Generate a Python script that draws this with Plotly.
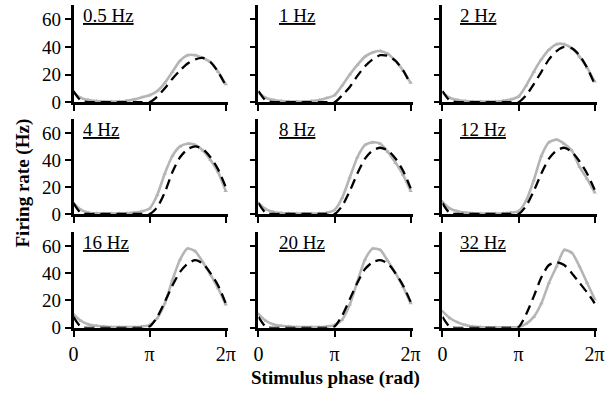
import math
import plotly.graph_objects as go

# Stimulus phase sampled in steps of pi/10 over one cycle
phase = [k * math.pi / 10 for k in range(21)]

labels = ["0.5 Hz", "1 Hz", "2 Hz", "4 Hz", "8 Hz", "12 Hz", "16 Hz", "20 Hz", "32 Hz"]

# Measured firing rate (Hz), one list per stimulus frequency
data_05 = [7, 3, 1.5, 0.8, 0.5, 0.5, 0.5, 1, 2, 3.5, 5, 8, 14, 22, 30, 34, 34, 32, 29, 22, 13]
data_1 = [7, 3, 1.5, 0.8, 0.5, 0.5, 0.5, 0.8, 1.5, 3, 5, 12, 20, 27, 33, 36, 37, 35, 30, 23, 14]
data_2 = [7, 3, 1.5, 0.8, 0.5, 0.5, 0.5, 0.5, 1, 2, 4, 12, 22, 31, 38, 42, 42, 39, 33, 25, 15]
data_4 = [8, 3, 1, 0.5, 0.3, 0.3, 0.3, 0.5, 1, 2, 4, 14, 30, 43, 50, 52, 51, 47, 40, 31, 17]
data_8 = [8, 3.5, 1.5, 0.8, 0.5, 0.3, 0.3, 0.3, 0.5, 1, 3, 12, 27, 42, 51, 53, 52, 46, 38, 29, 17]
data_12 = [9, 4, 2, 1, 0.5, 0.3, 0.3, 0.3, 0.5, 1, 2, 10, 25, 43, 53, 55, 52, 47, 35, 26, 16]
data_16 = [10, 5, 2.5, 1.5, 1, 0.5, 0.5, 0.5, 0.5, 1, 2, 7, 18, 35, 50, 58, 56, 48, 39, 29, 17]
data_20 = [10, 5, 2.5, 1.5, 1, 0.5, 0.5, 0.5, 0.5, 1, 2, 6, 17, 34, 50, 58, 57, 49, 40, 30, 18]
data_32 = [12, 7, 4, 2, 1, 0.5, 0.3, 0.3, 0.3, 0.3, 0.5, 3, 8, 18, 33, 45, 57, 55, 45, 33, 21]

# Model prediction (Hz), one list per stimulus frequency
model_05 = [8, 1, 0, 0, 0, 0, 0, 0, 0, 0, 0, 4, 10, 17, 23, 28, 31, 32, 29, 22, 12]
model_1 = [8, 1, 0, 0, 0, 0, 0, 0, 0, 0, 0, 5, 11, 19, 26, 31, 34, 33.5, 30, 23, 13]
model_2 = [8, 1, 0, 0, 0, 0, 0, 0, 0, 0, 0, 5, 13, 22, 31, 37, 40, 39, 34, 25, 13]
model_4 = [8, 0.5, 0, 0, 0, 0, 0, 0, 0, 0, 0, 5, 16, 31, 42, 48, 50, 48, 42, 33, 20]
model_8 = [8, 0.5, 0, 0, 0, 0, 0, 0, 0, 0, 0, 6, 17, 30, 41, 47, 49, 47, 41, 32, 19]
model_12 = [8, 0.5, 0, 0, 0, 0, 0, 0, 0, 0, 0, 6, 17, 30, 41, 47, 49, 46, 39, 30, 18]
model_16 = [8, 0.5, 0, 0, 0, 0, 0, 0, 0, 0, 1, 8, 19, 31, 41, 47, 49.5, 47, 40, 31, 18]
model_20 = [8, 0.5, 0, 0, 0, 0, 0, 0, 0, 0, 1, 9, 21, 33, 43, 48, 49.5, 47, 40, 31, 19]
model_32 = [8, 0.5, 0, 0, 0, 0, 0, 0, 0, 0, 0.5, 10, 23, 37, 46, 48, 46, 40, 33, 26, 18]

measured = [data_05, data_1, data_2, data_4, data_8, data_12, data_16, data_20, data_32]
model = [model_05, model_1, model_2, model_4, model_8, model_12, model_16, model_20, model_32]

x_tickvals = [0, math.pi, 2 * math.pi]
x_ticktext = ["0", "π", "2π"]
y_tickvals = [0, 20, 40, 60]

W, H = 609, 404
# panel frames in pixels: columns (left, right), rows (top, bottom)
col_px = [(70, 228), (259, 417), (447, 605)]
row_px = [(5, 105), (122, 220), (238, 337)]
label_left_px = [78, 278, 463]

SERIF = "Liberation Serif, Times New Roman, serif"
GRAY = "#b5b5b5"

fig = go.Figure()
layout = dict(
    width=W, height=H,
    margin=dict(l=0, r=0, t=0, b=0),
    paper_bgcolor="white", plot_bgcolor="white",
    showlegend=False,
    font=dict(family=SERIF, color="black"),
)
annotations = []

for i in range(9):
    r, c = divmod(i, 3)
    n = i + 1
    xa = "x" if n == 1 else f"x{n}"
    ya = "y" if n == 1 else f"y{n}"
    xkey = "xaxis" if n == 1 else f"xaxis{n}"
    ykey = "yaxis" if n == 1 else f"yaxis{n}"

    fig.add_trace(go.Scatter(
        x=phase, y=measured[i], xaxis=xa, yaxis=ya, mode="lines+markers",
        line=dict(color=GRAY, width=2.6, shape="spline", smoothing=0.6),
        marker=dict(color=GRAY, size=4, symbol="triangle-up"),
        cliponaxis=False,
    ))
    fig.add_trace(go.Scatter(
        x=phase, y=model[i], xaxis=xa, yaxis=ya, mode="lines",
        line=dict(color="black", width=2.3, dash="10px,6px", shape="spline", smoothing=0.7),
    ))

    x0, x1 = col_px[c]
    t0, t1 = row_px[r]
    layout[xkey] = dict(
        domain=[x0 / W, x1 / W], range=[0, 2 * math.pi + 0.1],
        anchor=ya, showline=True, linecolor="black", linewidth=2.6,
        ticks="outside", ticklen=6, tickwidth=2, tickcolor="black",
        tickvals=x_tickvals, ticktext=x_ticktext,
        showticklabels=(r == 2), tickfont=dict(family=SERIF, size=20, color="black"),
        showgrid=False, zeroline=False, fixedrange=True,
    )
    layout[ykey] = dict(
        domain=[1 - t1 / H, 1 - t0 / H], range=[0, 70.5],
        anchor=xa, showline=True, linecolor="black", linewidth=2.6,
        ticks="outside", ticklen=6, tickwidth=2, tickcolor="black",
        tickvals=y_tickvals, showticklabels=(c == 0),
        tickfont=dict(family=SERIF, size=19, color="black"),
        showgrid=False, zeroline=False, fixedrange=True,
    )
    annotations.append(dict(
        text=f"<u>{labels[i]}</u>", xref="paper", yref="paper",
        x=label_left_px[c] / W, y=1 - (t0 + 11) / H,
        xanchor="left", yanchor="middle", showarrow=False,
        font=dict(family=SERIF, size=19, color="black"),
    ))

annotations.append(dict(
    text="<b>Stimulus phase (rad)</b>", xref="paper", yref="paper",
    x=338 / W, y=1 - 389 / H, xanchor="center", yanchor="middle", showarrow=False,
    font=dict(family=SERIF, size=19, color="black"),
))
annotations.append(dict(
    text="<b>Firing rate (Hz)</b>", xref="paper", yref="paper",
    x=18 / W, y=1 - 188 / H, xanchor="center", yanchor="middle", showarrow=False,
    textangle=-90, font=dict(family=SERIF, size=19, color="black"),
))
layout["annotations"] = annotations

fig.update_layout(**layout)
fig.write_html("out.html")
